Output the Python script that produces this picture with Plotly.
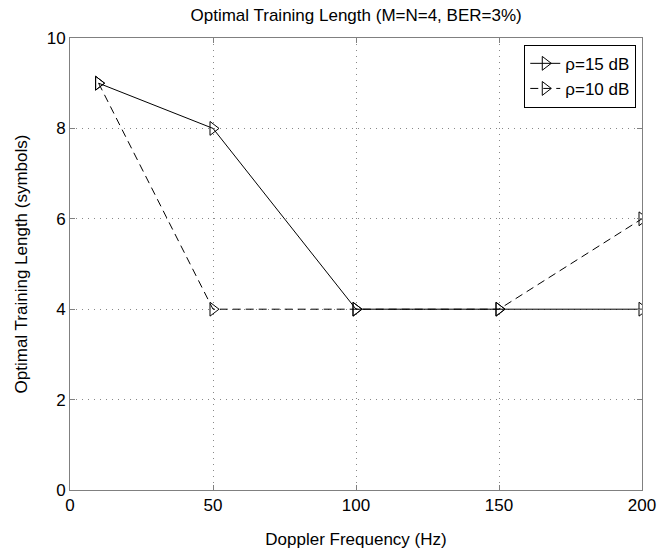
import plotly.graph_objects as go

doppler = [10, 50, 100, 150, 200]
len_15db = [9, 8, 4, 4, 4]
len_10db = [9, 4, 4, 4, 6]

fig = go.Figure()
mk = dict(symbol="triangle-right-open", size=12, color="black", line=dict(width=1))
fig.add_trace(go.Scatter(x=doppler, y=len_15db, mode="lines+markers", name="ρ=15 dB",
                         line=dict(color="black", width=1), marker=mk))
fig.add_trace(go.Scatter(x=doppler, y=len_10db, mode="lines+markers", name="ρ=10 dB",
                         line=dict(color="black", width=1, dash="8px,5px"), marker=mk))

ax = dict(showline=True, linecolor="#808080", linewidth=1, mirror="ticks",
          ticks="inside", ticklen=5, tickcolor="#808080",
          showgrid=True, gridcolor="#888888", griddash="1px,5px", gridwidth=1,
          zeroline=False, tickfont=dict(size=17, color="black"), automargin=False)
fig.update_layout(
    width=657, height=553,
    margin=dict(l=70, r=15, t=38, b=63),
    paper_bgcolor="white", plot_bgcolor="white",
    font=dict(family="Liberation Sans, Arial", color="black"),
    title=dict(text="Optimal Training Length (M=N=4, BER=3%)", x=0.542, xanchor="center",
               y=0.972, yanchor="middle", font=dict(size=17)),
    xaxis=dict(range=[0, 200], tickvals=[0, 50, 100, 150, 200],
               title=dict(text="Doppler Frequency (Hz)", font=dict(size=17), standoff=18), **ax),
    yaxis=dict(range=[0, 10], tickvals=[0, 2, 4, 6, 8, 10],
               title=dict(text="Optimal Training Length (symbols)", font=dict(size=17), standoff=14), **ax),
    legend=dict(x=0.99, y=0.985, xanchor="right", yanchor="top", bgcolor="white",
                bordercolor="black", borderwidth=1, font=dict(size=17),
                tracegroupgap=0),
    showlegend=True,
)
fig.write_html("out.html")
